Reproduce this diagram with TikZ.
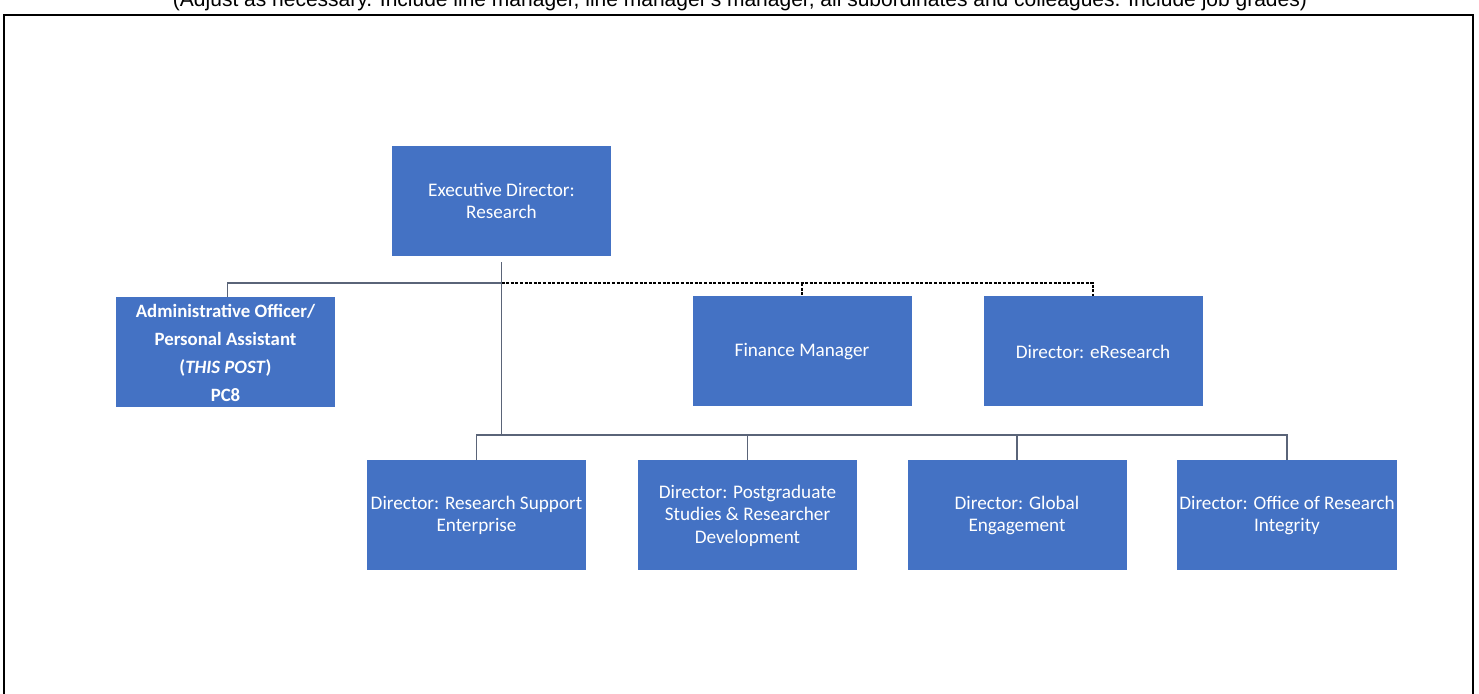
\documentclass[tikz,border=0pt]{standalone}
\usepackage{fontspec}
\setmainfont{Carlito}
\newfontfamily\arialfont{Liberation Sans}
\definecolor{boxblue}{HTML}{4472C4}
\definecolor{conncol}{HTML}{5A6478}
\begin{document}
\begin{tikzpicture}[x=0.5pt,y=-0.5pt,
  box/.style={fill=boxblue, text=white, minimum width=109.5pt, minimum height=55pt, inner sep=1pt, align=center, font=\fontsize{9.6}{11.2}\selectfont},
  adminbox/.style={box, font=\bfseries\fontsize{9.4}{14}\selectfont},
  conn/.style={draw=conncol, line width=0.6pt},
  dashline/.style={draw=black, line width=0.7pt, dash pattern=on 1.5pt off 0.8pt},
  frame/.style={draw=black, line width=0.8pt}]
\useasboundingbox (0,0) rectangle (1479,694);
\clip (0,0) rectangle (1479,694);
\fill[white] (0,0) rectangle (1479,694);
\node[anchor=base, font=\arialfont\fontsize{10.5}{12}\selectfont] (note) at (740,7) {(Adjust as necessary. Include line manager, line manager's manager, all subordinates and colleagues. Include job grades)};
\draw[frame] (4,720) -- (4,15) -- (1473,15) -- (1473,720);

\node[box] (exec) at (501.5,201) {Executive Director:\\Research};
\node[adminbox] (admin) at (225.5,352.5) {Administrative Officer/\\Personal Assistant\\(\textit{THIS POST})\\PC8};
\node[box] (fin) at (802,351.5) {Finance Manager};
\node[box] (eres) at (1093,351.5) {Director: eResearch};
\node[box] (rse) at (476.5,515.5) {Director: Research Support\\Enterprise};
\node[box] (psrd) at (747.5,515.5) {Director: Postgraduate\\Studies \& Researcher\\Development};
\node[box] (glob) at (1017,515.5) {Director: Global\\Engagement};
\node[box] (ori) at (1287,515.5) {Director: Office of Research\\Integrity};

\coordinate (top) at ([yshift=-3pt]exec.south);
\coordinate (bus1) at (exec.south |- 0,283);
\coordinate (bus2) at (exec.south |- 0,435);

\draw[conn] ([xshift=1pt]admin.north) |- (bus1);
\draw[conn, line width=0.8pt] (top) -- (bus2);
\draw[dashline] (bus1) -| (eres.north);
\draw[dashline] (fin.north |- bus1) -- (fin.north);
\draw[conn] (rse.north) |- (ori.north |- bus2) -- (ori.north);
\draw[conn] (psrd.north |- bus2) -- (psrd.north);
\draw[conn] (glob.north |- bus2) -- (glob.north);
\end{tikzpicture}
\end{document}
